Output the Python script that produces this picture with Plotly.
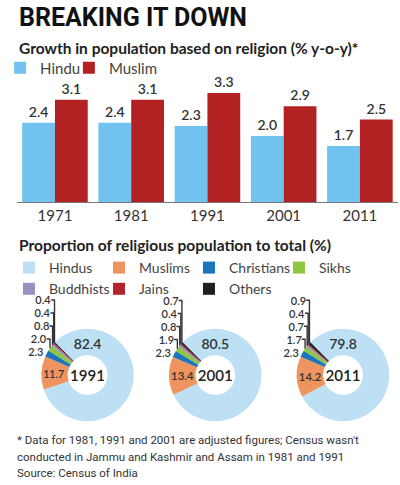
import plotly.graph_objects as go

# growth in population, % y-o-y
years = ['1971', '1981', '1991', '2001', '2011']
hindu_growth = [2.4, 2.4, 2.3, 2.0, 1.7]
muslim_growth = [3.1, 3.1, 3.3, 2.9, 2.5]

# share of religious population to total, %
religions = ['Hindus', 'Muslims', 'Christians', 'Sikhs', 'Buddhists', 'Jains', 'Others']
share_1991 = [82.4, 11.7, 2.3, 2.0, 0.8, 0.4, 0.4]
share_2001 = [80.5, 13.4, 2.3, 1.9, 0.8, 0.4, 0.7]
share_2011 = [79.8, 14.2, 2.3, 1.7, 0.7, 0.4, 0.9]
census_years = ['1991', '2001', '2011']

footnotes = ["* Data for 1981, 1991 and 2001 are adjusted figures; Census wasn't",
             "conducted in Jammu and Kashmir and Assam in 1981 and 1991",
             "Source: Census of India"]

W, H = 400, 485
FONT = 'Lato, Open Sans, sans-serif'
pie_colors = ['#bde0f5', '#ee945f', '#1b75bb', '#8dc63f', '#9c8dc2', '#b5232a', '#231f20']


def px_x(v):
    return v / W


def px_y(v):
    return 1 - v / H


fig = go.Figure()

fig.add_trace(go.Bar(
    name='Hindu', x=years, y=hindu_growth,
    marker=dict(color='#71c2ee', line=dict(width=0)),
    texttemplate='%{y:.1f}', textposition='outside',
    textfont=dict(family=FONT, size=14, color='#333333', weight=600),
    cliponaxis=False, legend='legend',
))
fig.add_trace(go.Bar(
    name='Muslim', x=years, y=muslim_growth,
    marker=dict(color='#b22222', line=dict(width=0)),
    texttemplate='%{y:.1f}', textposition='outside',
    textfont=dict(family=FONT, size=14, color='#333333', weight=600),
    cliponaxis=False, legend='legend3',
))

pie_centers = [82, 212, 342]
pie_cy = 375
radius = 47
for i, (yr, share) in enumerate(zip(census_years, [share_1991, share_2001, share_2011])):
    cx = pie_centers[i]
    fig.add_trace(go.Pie(
        labels=religions, values=share,
        marker=dict(colors=pie_colors, line=dict(width=0)),
        hole=0.43, sort=False, direction='clockwise', rotation=-45,
        texttemplate='%{value:.1f}',
        textposition=['inside', 'inside'] + ['outside'] * 5,
        insidetextorientation='horizontal',
        insidetextfont=dict(family=FONT, size=14, color='#333333', weight=600),
        outsidetextfont=dict(family=FONT, size=11, color='#333333', weight=600),
        title=dict(text=yr, position='middle center',
                   font=dict(family=FONT, size=17, color='#222222', weight=600)),
        domain=dict(x=[px_x(cx - radius), px_x(cx + radius)],
                    y=[px_y(pie_cy + radius), px_y(pie_cy - radius)]),
        showlegend=(i == 0), legend='legend2', hoverinfo='label+value',
    ))

legend_font = dict(family=FONT, size=15, color='#444444')
fig.update_layout(
    width=W, height=H,
    margin=dict(l=0, r=0, t=0, b=0),
    paper_bgcolor='white', plot_bgcolor='white',
    barmode='group', bargap=0.14, bargroupgap=0,
    font=dict(family=FONT, color='#333333'),
    xaxis=dict(domain=[px_x(10), px_x(398)], showline=True, linecolor='#777777',
               linewidth=1, ticks='', showgrid=False,
               tickfont=dict(family=FONT, size=15, color='#333333')),
    yaxis=dict(domain=[px_y(202), px_y(80)], range=[0, 122 / 33], visible=False,
               showgrid=False),
    legend=dict(orientation='h', x=px_x(-7), xanchor='left', y=px_y(68), yanchor='middle',
                font=legend_font, bgcolor='rgba(0,0,0,0)'),
    legend3=dict(orientation='h', x=px_x(63), xanchor='left', y=px_y(68), yanchor='middle',
                 font=legend_font, bgcolor='rgba(0,0,0,0)'),
    legend2=dict(orientation='h', x=px_x(2), xanchor='left', y=px_y(252), yanchor='top',
                 entrywidth=45, entrywidthmode='pixels',
                 font=dict(family=FONT, size=14, color='#444444'),
                 bgcolor='rgba(0,0,0,0)', traceorder='normal'),
    showlegend=True,
)

fig.add_annotation(text='<b>BREAKING IT DOWN</b>', x=px_x(10), y=px_y(1),
                   xref='paper', yref='paper', xanchor='left', yanchor='top',
                   showarrow=False, font=dict(family='Roboto, sans-serif', size=25, color='#111111'))
fig.add_annotation(text='<b>Growth in population based on religion (% y-o-y)*</b>',
                   x=px_x(10), y=px_y(48), xref='paper', yref='paper',
                   xanchor='left', yanchor='middle', showarrow=False,
                   font=dict(family=FONT, size=15.5, color='#222222'))
fig.add_annotation(text='<b>Proportion of religious population to total (%)</b>',
                   x=px_x(10), y=px_y(245), xref='paper', yref='paper',
                   xanchor='left', yanchor='middle', showarrow=False,
                   font=dict(family=FONT, size=15.5, color='#222222'))
for k, line in enumerate(footnotes):
    fig.add_annotation(text=line, x=px_x(8), y=px_y(440 + 16.5 * k),
                       xref='paper', yref='paper', xanchor='left', yanchor='middle',
                       align='left', showarrow=False,
                       font=dict(family='Roboto, sans-serif', size=11.5, color='#333333'))

# the page's default body margin would push the figure 8px down and right
fig.write_html("out.html", config={'displayModeBar': False},
               post_script="document.body.style.margin='0';")
